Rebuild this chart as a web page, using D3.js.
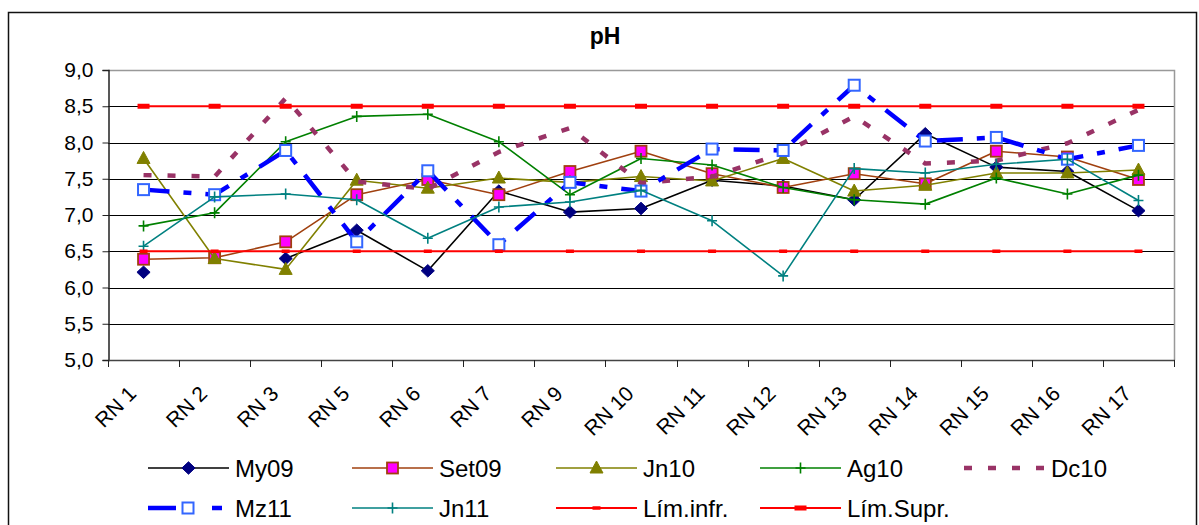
<!DOCTYPE html>
<html>
<head>
<meta charset="utf-8">
<script src="https://cdn.jsdelivr.net/npm/d3@7"></script>
<style>
  body { margin: 0; background: #fff; }
  svg { display: block; font-family: "Liberation Sans", Arial, sans-serif; }
</style>
</head>
<body>
<div id="chart"></div>
<script>
// categories (sampling points) and pH per campaign
const categories = ["RN 1", "RN 2", "RN 3", "RN 5", "RN 6", "RN 7", "RN 9", "RN 10", "RN 11", "RN 12", "RN 13", "RN 14", "RN 15", "RN 16", "RN 17"];
const my09  = [6.21, null, 6.40, 6.79, 6.23, 7.33, 7.04, 7.09, 7.48, 7.40, 7.21, 8.12, 7.66, 7.60, 7.06];
const set09 = [6.39, 6.41, 6.63, 7.28, 7.49, 7.28, 7.60, 7.88, 7.57, 7.38, 7.57, 7.43, 7.88, 7.80, 7.49];
const jn10  = [7.78, 6.40, 6.25, 7.48, 7.37, 7.51, 7.45, 7.53, 7.47, 7.78, 7.33, 7.41, 7.58, 7.58, 7.62];
const ag10  = [6.85, 7.03, 8.01, 8.36, 8.39, 8.01, 7.28, 7.78, 7.69, 7.38, 7.21, 7.15, 7.51, 7.29, 7.55];
const dc10  = [7.55, 7.53, 8.61, 7.46, 7.36, 7.87, 8.20, 7.44, 7.53, 7.85, 8.36, 7.71, 7.75, 7.99, 8.45];
const mz11  = [7.35, 7.28, 7.89, 6.63, 7.61, 6.59, 7.45, 7.33, 7.91, 7.89, 8.79, 8.02, 8.07, 7.77, 7.96];
const jn11  = [6.57, 7.25, 7.29, 7.21, 6.68, 7.11, 7.18, 7.34, 6.92, 6.16, 7.64, 7.58, 7.70, 7.77, 7.20];
const limInf  = [6.5, 6.5, 6.5, 6.5, 6.5, 6.5, 6.5, 6.5, 6.5, 6.5, 6.5, 6.5, 6.5, 6.5, 6.5];
const limSupr = [8.5, 8.5, 8.5, 8.5, 8.5, 8.5, 8.5, 8.5, 8.5, 8.5, 8.5, 8.5, 8.5, 8.5, 8.5];
const yTicks = [5.0, 5.5, 6.0, 6.5, 7.0, 7.5, 8.0, 8.5, 9.0];

// series styling (order = drawing order = legend order)
const series = [
  { name: "My09", values: my09, color: "#000000", width: 1.6, dash: null, marker: "diamond", mFill: "#000080", mStroke: "#000080" },
  { name: "Set09", values: set09, color: "#A0400F", width: 1.6, dash: null, marker: "square", mFill: "#FF00FF", mStroke: "#A0400F" },
  { name: "Jn10", values: jn10, color: "#808000", width: 1.6, dash: null, marker: "triangle", mFill: "#808000", mStroke: "#808000" },
  { name: "Ag10", values: ag10, color: "#008000", width: 1.6, dash: null, marker: "plus", mFill: "none", mStroke: "#008000" },
  { name: "Dc10", values: dc10, color: "#993366", width: 4.5, dash: "8,16", marker: null },
  { name: "Mz11", values: mz11, color: "#0000FF", width: 4.5, dash: "26,14,8,14", marker: "open", mFill: "#FFFFFF", mStroke: "#3366FF" },
  { name: "Jn11", values: jn11, color: "#008080", width: 1.6, dash: null, marker: "plus", mFill: "none", mStroke: "#008080" },
  { name: "Lím.infr.", values: limInf, color: "#FF0000", width: 2, dash: null, marker: "bar", mFill: "#FF0000", barW: 8, barH: 3.5 },
  { name: "Lím.Supr.", values: limSupr, color: "#FF0000", width: 2, dash: null, marker: "bar", mFill: "#FF0000", barW: 12, barH: 5 }
];

const width = 1199, height = 525;
const plot = { left: 108, right: 1174, top: 70, bottom: 360 };

const svg = d3.select("#chart").append("svg")
  .attr("width", width)
  .attr("height", height);

// chart border
svg.append("rect")
  .attr("x", 8.5).attr("y", 12.5)
  .attr("width", 1188).attr("height", 540)
  .attr("fill", "#fff")
  .attr("stroke", "#111")
  .attr("stroke-width", 1.5);

const x = d3.scaleBand().domain(categories).range([plot.left, plot.right]).padding(0);
const y = d3.scaleLinear().domain([5, 9]).range([plot.bottom, plot.top]);
const cx = c => x(c) + x.bandwidth() / 2;

// gridlines
svg.append("g")
  .selectAll("line")
  .data(yTicks.filter(d => d > 5 && d < 9))
  .join("line")
  .attr("x1", plot.left).attr("x2", plot.right)
  .attr("y1", d => Math.round(y(d)) + 0.5).attr("y2", d => Math.round(y(d)) + 0.5)
  .attr("stroke", "#000")
  .attr("stroke-width", 1);

// plot frame top / right (grey)
svg.append("path")
  .attr("d", `M${plot.left},${plot.top + 0.5}H${plot.right + 0.5}V${plot.bottom}`)
  .attr("fill", "none")
  .attr("stroke", "#999")
  .attr("stroke-width", 1.5);

// y axis
const yAxis = svg.append("g")
  .attr("transform", `translate(${plot.left + 0.5},0)`)
  .call(d3.axisLeft(y).tickValues(yTicks).tickSize(6).tickPadding(9)
    .tickFormat(d => d.toFixed(1).replace(".", ",")));
yAxis.select(".domain").attr("stroke", "#222").attr("stroke-width", 1.5);
yAxis.selectAll(".tick line").attr("stroke", "#222");
yAxis.selectAll("text").attr("font-size", 21).attr("fill", "#000")
  .attr("font-family", "Liberation Sans, Arial, sans-serif");

// x axis: line, ticks at band edges, rotated labels
const xEdges = categories.map(c => x(c)).concat([x.range()[1]]);
svg.append("line")
  .attr("x1", plot.left).attr("x2", plot.right + 1)
  .attr("y1", plot.bottom + 0.5).attr("y2", plot.bottom + 0.5)
  .attr("stroke", "#444").attr("stroke-width", 1.5);
svg.append("g")
  .selectAll("line")
  .data(xEdges)
  .join("line")
  .attr("x1", d => Math.round(d) + 0.5).attr("x2", d => Math.round(d) + 0.5)
  .attr("y1", plot.bottom).attr("y2", plot.bottom + 7)
  .attr("stroke", "#222");
svg.append("g")
  .selectAll("text")
  .data(categories)
  .join("text")
  .attr("transform", d => `translate(${cx(d) - 6},${plot.bottom + 35}) rotate(-45)`)
  .attr("text-anchor", "end")
  .attr("font-size", 21)
  .text(d => d);

// title
svg.append("text")
  .attr("x", 605).attr("y", 44)
  .attr("text-anchor", "middle")
  .attr("font-size", 23)
  .attr("font-weight", "bold")
  .text("pH");

// marker drawing
function drawMarker(g, s, px, py) {
  if (s.marker === "diamond") {
    g.append("path").attr("d", d3.symbol(d3.symbolDiamond2, 110)())
      .attr("transform", `translate(${px},${py}) scale(1,0.95)`)
      .attr("fill", s.mFill).attr("stroke", s.mStroke).attr("stroke-width", 1);
  } else if (s.marker === "square") {
    g.append("rect").attr("x", px - 5.5).attr("y", py - 5.5).attr("width", 11).attr("height", 11)
      .attr("fill", s.mFill).attr("stroke", s.mStroke).attr("stroke-width", 1.8);
  } else if (s.marker === "open") {
    g.append("rect").attr("x", px - 5.5).attr("y", py - 5.5).attr("width", 11).attr("height", 11)
      .attr("fill", s.mFill).attr("stroke", s.mStroke).attr("stroke-width", 2);
  } else if (s.marker === "triangle") {
    g.append("path").attr("d", `M${px},${py - 7}L${px + 6.5},${py + 5}L${px - 6.5},${py + 5}Z`)
      .attr("fill", s.mFill).attr("stroke", s.mStroke).attr("stroke-width", 1);
  } else if (s.marker === "plus") {
    g.append("path").attr("d", `M${px - 5},${py}H${px + 5}M${px},${py - 5.5}V${py + 5.5}`)
      .attr("stroke", s.mStroke).attr("stroke-width", 1.6).attr("fill", "none");
  } else if (s.marker === "bar") {
    g.append("rect").attr("x", px - s.barW / 2).attr("y", py - s.barH / 2)
      .attr("width", s.barW).attr("height", s.barH).attr("fill", s.mFill);
  }
}

const line = d3.line()
  .defined(d => d.v != null)
  .x(d => cx(d.c))
  .y(d => y(d.v));

series.forEach(s => {
  const pts = categories.map((c, i) => ({ c: c, v: s.values[i] }));
  const g = svg.append("g").attr("class", "series");
  g.append("path")
    .datum(pts)
    .attr("d", line)
    .attr("fill", "none")
    .attr("stroke", s.color)
    .attr("stroke-width", s.width)
    .attr("stroke-dasharray", s.dash)
    .attr("stroke-linejoin", "round");
  if (s.marker) {
    pts.filter(p => p.v != null).forEach(p => drawMarker(g, s, cx(p.c), y(p.v)));
  }
});

// legend: 5 per row
const legendX0 = 148, legendStep = 204, legendRowY = [468, 508], legendLen = 81;
const legend = svg.append("g");
series.forEach((s, i) => {
  const lx = legendX0 + (i % 5) * legendStep;
  const ly = legendRowY[Math.floor(i / 5)];
  const g = legend.append("g");
  if (s.name === "Mz11") {
    // long dash, marker, short dash, short dash
    g.append("path").attr("d", `M${lx},${ly}H${lx + 28}M${lx + 36},${ly}H${lx + 44}M${lx + 64},${ly}H${lx + 74}`)
      .attr("stroke", s.color).attr("stroke-width", s.width);
  } else {
    g.append("line")
      .attr("x1", lx).attr("x2", lx + legendLen)
      .attr("y1", ly).attr("y2", ly)
      .attr("stroke", s.color)
      .attr("stroke-width", s.width)
      .attr("stroke-dasharray", s.dash);
  }
  if (s.marker) drawMarker(g, s, lx + legendLen / 2 - (s.name === "Mz11" ? 0.5 : 0), ly);
  g.append("text")
    .attr("x", lx + 87).attr("y", ly + 8.5)
    .attr("font-size", 24)
    .text(s.name);
});
</script>
</body>
</html>
